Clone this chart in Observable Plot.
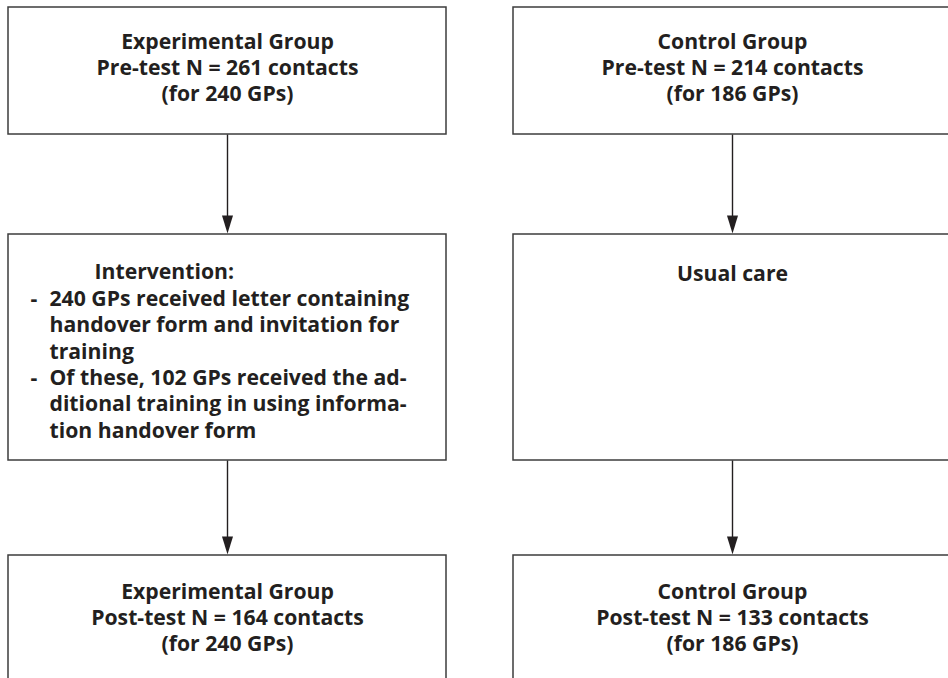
<!DOCTYPE html>
<html>
<head>
<meta charset="utf-8">
<script src="https://cdn.jsdelivr.net/npm/d3@7"></script>
<script src="https://cdn.jsdelivr.net/npm/@observablehq/plot@0.6"></script>
<style>
  html, body { margin: 0; padding: 0; background: #fff; }
</style>
</head>
<body>
<div id="chart"></div>
<script>
// ---- content ----
const groups = ["Experimental Group", "Control Group"];
const preN = [261, 214];
const postN = [164, 133];
const gpCounts = [240, 186];
const interventionTitle = "Intervention:";
const interventionItems = [
  ["240 GPs received letter containing", "handover form and invitation for", "training"],
  ["Of these, 102 GPs received the ad-", "ditional training in using informa-", "tion handover form"]
];
const controlStep = "Usual care";

// ---- layout ----
const W = 948, H = 678;
const colCenter = [227, 732];
const boxHalf = 219;
const rows = [[7, 134], [234, 460], [555, 740]];
const fs = 21.2;
const lh = 26.3 / fs;
const ink = "#231f20";
const font = "'Open Sans', 'Noto Sans', sans-serif";

const boxes = [];
for (let c = 0; c < 2; c++) for (let r = 0; r < 3; r++)
  boxes.push({x1: colCenter[c] - boxHalf, x2: colCenter[c] + boxHalf, y1: rows[r][0], y2: rows[r][1]});

const headLen = 18, headHalf = 5.5;
const links = [], heads = [];
for (let c = 0; c < 2; c++) for (let r = 0; r < 2; r++) {
  const x = colCenter[c], y1 = rows[r][1], y2 = rows[r + 1][0] - 1;
  links.push({x, y1, y2: y2 - headLen + 2});
  const id = c * 2 + r;
  heads.push({id, x: x - headHalf, y: y2 - headLen}, {id, x: x + headHalf, y: y2 - headLen}, {id, x, y: y2});
}

const topTexts = groups.map((g, i) => ({x: colCenter[i], y: 73 - 0.32 * fs, t: `${g}\nPre-test N = ${preN[i]} contacts\n(for ${gpCounts[i]} GPs)`}));
const botTexts = groups.map((g, i) => ({x: colCenter[i], y: 623 - 0.32 * fs, t: `${g}\nPost-test N = ${postN[i]} contacts\n(for ${gpCounts[i]} GPs)`}));

const base0 = 275;
const bulletStart = [302, 302 + 3 * 26.3];
const itemTexts = interventionItems.map((lines, i) => ({x: 49, y: bulletStart[i] - 0.71 * fs, t: lines.join("\n")}));
const dashTexts = interventionItems.map((lines, i) => ({x: 30, y: bulletStart[i] - 0.71 * fs, t: "-"}));

const textOpts = {fontFamily: font, fontWeight: "bold", fontSize: fs, fill: ink, lineHeight: lh};

const chart = Plot.plot({
  width: W, height: H, margin: 0,
  x: {domain: [0, W], range: [0, W], axis: null},
  y: {domain: [0, H], range: [0, H], axis: null},
  marks: [
    Plot.rect(boxes, {x1: "x1", x2: "x2", y1: "y1", y2: "y2", fill: "white", stroke: "#3d3d3d", strokeWidth: 1.5}),
    Plot.link(links, {x1: "x", x2: "x", y1: "y1", y2: "y2", stroke: ink, strokeWidth: 1.4}),
    Plot.line(heads, {x: "x", y: "y", z: "id", fill: ink, stroke: "none", curve: "linear-closed"}),
    Plot.text(topTexts, {x: "x", y: "y", text: "t", lineAnchor: "middle", ...textOpts}),
    Plot.text(botTexts, {x: "x", y: "y", text: "t", lineAnchor: "middle", ...textOpts}),
    Plot.text([interventionTitle], {x: 94, y: base0 - 0.71 * fs, text: d => d, textAnchor: "start", lineAnchor: "top", ...textOpts}),
    Plot.text(dashTexts, {x: "x", y: "y", text: "t", textAnchor: "start", lineAnchor: "top", ...textOpts}),
    Plot.text(itemTexts, {x: "x", y: "y", text: "t", textAnchor: "start", lineAnchor: "top", ...textOpts}),
    Plot.text([controlStep], {x: colCenter[1], y: 277 - 0.71 * fs, text: d => d, lineAnchor: "top", ...textOpts})
  ]
});
document.getElementById("chart").appendChild(chart);
</script>
</body>
</html>
